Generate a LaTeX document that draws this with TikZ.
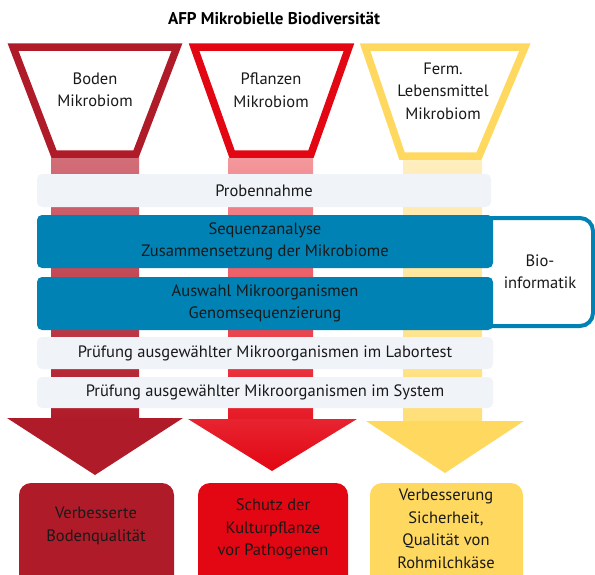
\documentclass[tikz,border=0pt]{standalone}
\usepackage{fontspec}
\setmainfont{PT Sans}
\definecolor{cBoden}{RGB}{176,27,41}
\definecolor{cBodenL}{RGB}{210,110,120}
\definecolor{cRed}{RGB}{227,6,19}
\definecolor{cRedL}{RGB}{243,152,157}
\definecolor{cYel}{RGB}{255,217,95}
\definecolor{cYelL}{RGB}{255,238,190}
\definecolor{cGray}{RGB}{240,243,248}
\definecolor{cBlue}{RGB}{0,130,180}
\tikzset{
  funnel/.style={line width=7.5, line join=miter, fill=white},
  lbl/.style={inner sep=0, align=center, font=\fontsize{16.5}{22.5}\selectfont, text=black!90},
  graybar/.style={fill=cGray, rounded corners=5, inner sep=0, font=\fontsize{16.5}{22.5}\selectfont, align=center, text=black!90},
  bluebar/.style={fill=cBlue, rounded corners=5, inner sep=0, font=\fontsize{16.5}{22.5}\selectfont, align=center, text=black!90},
  goalbox/.style={rounded corners=12, inner sep=0, minimum height=107},
}
\begin{document}
\begin{tikzpicture}[x=1pt,y=-1pt]
\useasboundingbox (0,0) rectangle (595,574);
\clip (0,0) rectangle (595,574);
% title
\node[inner sep=0, font=\fontsize{17}{19}\selectfont\bfseries] (title) at (274,18) {AFP Mikrobielle Biodiversität};
% stripes
\shade[top color=cBodenL, bottom color=cBoden] (51,158) rectangle (139,420);
\shade[top color=cRedL, bottom color=cRed!92!white] (228,158) rectangle (313,421);
\shade[top color=cYelL, bottom color=cYel!85!white] (403,160) rectangle (482,422);
% arrow heads
\fill[cBoden] (7,418) -- (183,418) -- (95,475) -- cycle;
\shade[top color=cRed!88!white, bottom color=cRed] (188,419) -- (357,419) -- (272,471) -- cycle;
\fill[cYel] (366,421) -- (524,421) -- (445,473) -- cycle;
% funnels
\draw[funnel, draw=cBoden] (13,47) -- (177,47) -- (136,154) -- (54,154) -- cycle;
\draw[funnel, draw=cRed] (194,47) -- (349,47) -- (311,154) -- (232,154) -- cycle;
\draw[funnel, draw=cYel] (365,47) -- (525,47) -- (479,156) -- (402,156) -- cycle;
\node[lbl] (boden) at (95,90) {Boden\\Mikrobiom};
\node[lbl] (pflanzen) at (271,90) {Pflanzen\\Mikrobiom};
\node[lbl] (ferm) at (443,91) {Ferm.\\Lebensmittel\\Mikrobiom};
% bioinformatik outline
\begin{scope}
\clip (485,200) rectangle (600,340);
\draw[cBlue, line width=4, rounded corners=13] (470,218) rectangle (593,326);
\end{scope}
\node[lbl] (bio) at (540,272) {Bio-\\informatik};
% bars
\node[graybar, minimum width=454, minimum height=33] (probe) at (264,190.5) {Probennahme};
\node[bluebar, minimum width=456, minimum height=53] (seq) at (265,241.5) {Sequenzanalyse\\Zusammensetzung der Mikrobiome};
\node[bluebar, minimum width=456, minimum height=53] (ausw) at (265,303.5) {Auswahl Mikroorganismen\\Genomsequenzierung};
\node[graybar, minimum width=456, minimum height=32] (labor) at (265,353) {Prüfung ausgewählter Mikroorganismen im Labortest};
\node[graybar, minimum width=456, minimum height=31] (system) at (265,392.5) {Prüfung ausgewählter Mikroorganismen im System};
% goal boxes
\node[goalbox, fill=cBoden, minimum width=155] (g1box) at (96.5,536.5) {};
\node[goalbox, fill=cRed, minimum width=150] (g2box) at (273,536.5) {};
\node[goalbox, fill=cYel, minimum width=153] (g3box) at (446.5,536.5) {};
\node[lbl] (g1) at (96,526) {Verbesserte\\Bodenqualität};
\node[lbl] (g2) at (273,529) {Schutz der\\Kulturpflanze\\vor Pathogenen};
\node[lbl] (g3) at (446,529) {Verbesserung\\Sicherheit,\\Qualität von\\Rohmilchkäse};
\end{tikzpicture}
\end{document}
